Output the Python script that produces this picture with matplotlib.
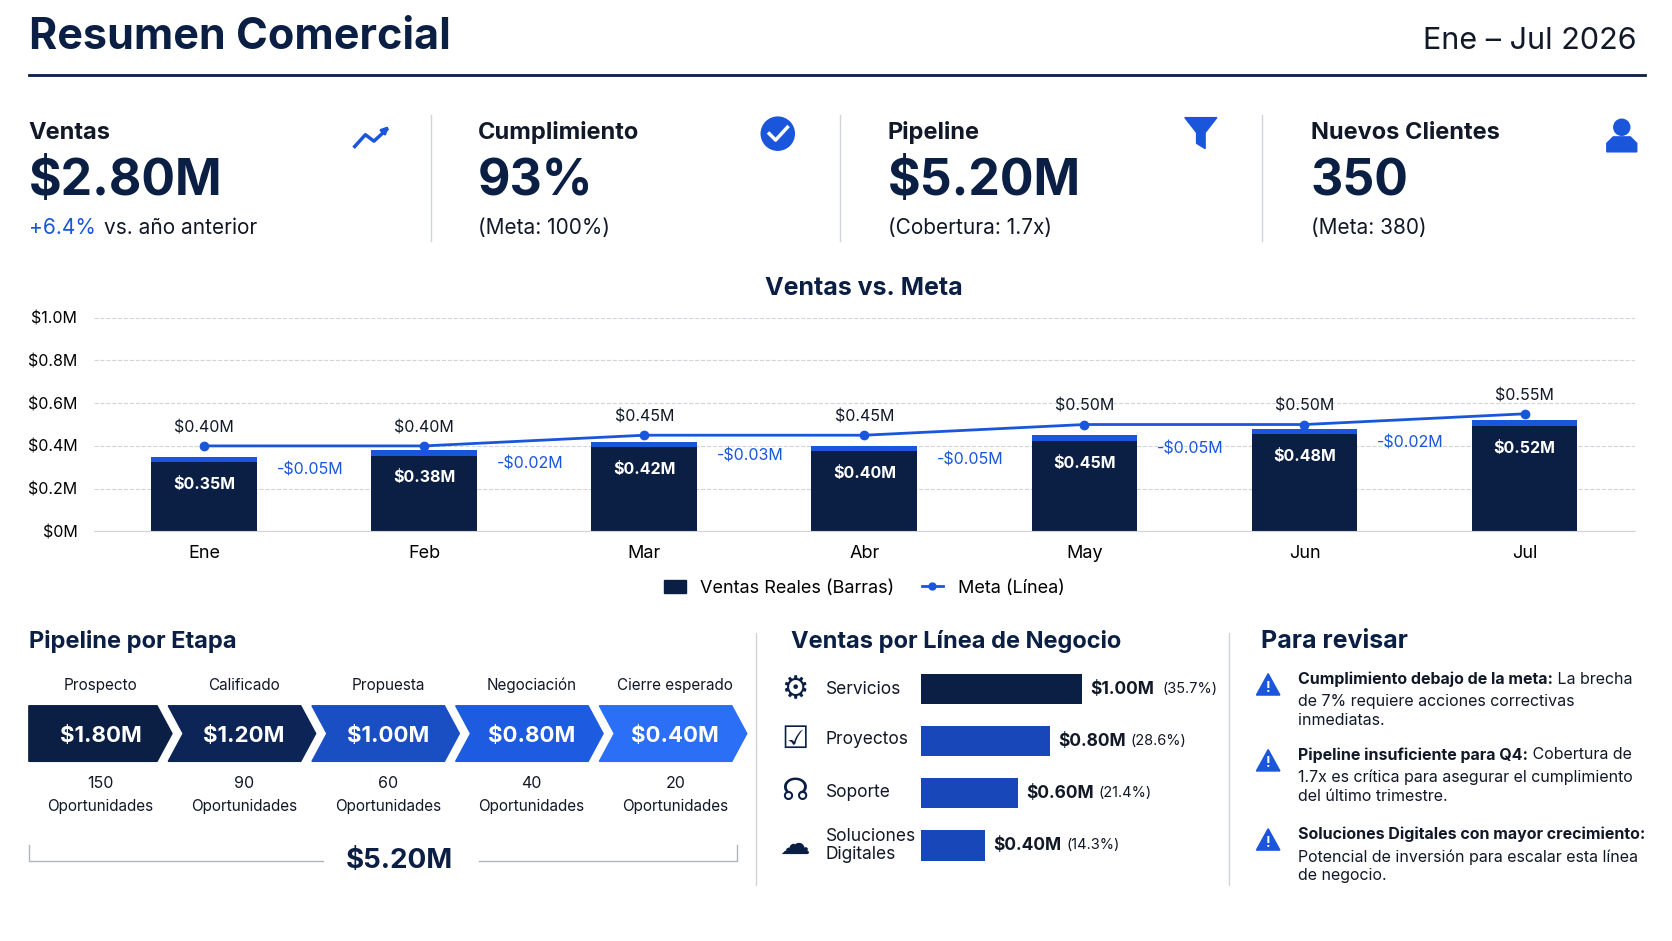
import numpy as np
import matplotlib.pyplot as plt
from matplotlib.patches import Polygon, Ellipse

plt.rcParams['font.family'] = ['Inter', 'DejaVu Sans']

NAVY = '#0b1f45'
BLUE = '#1a56db'
TXT = '#111827'

# ---- data
meses = ['Ene', 'Feb', 'Mar', 'Abr', 'May', 'Jun', 'Jul']
ventas = [0.35, 0.38, 0.42, 0.40, 0.45, 0.48, 0.52]
meta = [0.40, 0.40, 0.45, 0.45, 0.50, 0.50, 0.55]
brecha = ['-$0.05M', '-$0.02M', '-$0.03M', '-$0.05M', '-$0.05M', '-$0.02M']

etapas = ['Prospecto', 'Calificado', 'Propuesta', 'Negociación', 'Cierre esperado']
etapa_valor = ['$1.80M', '$1.20M', '$1.00M', '$0.80M', '$0.40M']
etapa_ops = [150, 90, 60, 40, 20]
etapa_col = ['#0b1f45', '#0d2457', '#1a4fc4', '#1d5be0', '#2a6ff5']

lineas = ['Servicios', 'Proyectos', 'Soporte', 'Soluciones\nDigitales']
linea_val = [1.00, 0.80, 0.60, 0.40]
linea_pct = ['35.7%', '28.6%', '21.4%', '14.3%']
linea_icon = ['⚙', '☑', '☊', '☁']
linea_col = [NAVY, '#1747b8', '#1747b8', '#1747b8']

kpis = [('Ventas', '$2.80M', 'vs. año anterior'),
        ('Cumplimiento', '93%', '(Meta: 100%)'),
        ('Pipeline', '$5.20M', '(Cobertura: 1.7x)'),
        ('Nuevos Clientes', '350', '(Meta: 380)')]

notas = [('Cumplimiento debajo de la meta:', ' La brecha\nde 7% requiere acciones correctivas\ninmediatas.'),
         ('Pipeline insuficiente para Q4:', ' Cobertura de\n1.7x es crítica para asegurar el cumplimiento\ndel último trimestre.'),
         ('Soluciones Digitales con mayor crecimiento:', '\nPotencial de inversión para escalar esta línea\nde negocio.')]

W, H = 1565.0, 880.0
def fx(x): return x / W
def fy(y): return 1 - y / H

fig = plt.figure(figsize=(16.72, 9.41), dpi=100)
fig.patch.set_facecolor('white')

# overlay for decorations, in layout pixels
ov = fig.add_axes([0, 0, 1, 1])
ov.set_xlim(0, W); ov.set_ylim(H, 0); ov.axis('off')

ov.text(27, 35, 'Resumen Comercial', fontsize=31, fontweight='bold', color=NAVY, va='center')
ov.text(1532, 38, 'Ene – Jul 2026', fontsize=22, color=TXT, va='center', ha='right')
ov.plot([27, 1540], [70, 70], color=NAVY, lw=2)

# KPI cards
kx = [27, 447, 831, 1227]
for i, (lab, val, sub) in enumerate(kpis):
    x = kx[i]
    ov.text(x, 124, lab, fontsize=17, fontweight='bold', color=TXT, va='center')
    ov.text(x, 170, val, fontsize=36, fontweight='bold', color=NAVY, va='center')
    if i == 0:
        ov.text(x, 213, '+6.4%', fontsize=15, color=BLUE, va='center')
        ov.text(x + 70, 213, sub, fontsize=15, color=TXT, va='center')
    else:
        ov.text(x, 213, sub, fontsize=15, color=TXT, va='center')
for dx in [403, 786, 1181]:
    ov.plot([dx, dx], [108, 225], color='#d1d5db', lw=1)
# icons
ov.plot([332, 342, 350, 362], [137, 126, 132, 121], color=BLUE, lw=2.5)
ov.annotate('', xy=(366, 116), xytext=(356, 126),
            arrowprops=dict(arrowstyle='-|>', color=BLUE, lw=2))
ov.add_patch(Ellipse((728, 125), 31, 31, color=BLUE))
ov.plot([720, 726, 737], [125, 131, 119], color='white', lw=2.5)
ov.add_patch(Polygon([[1109, 110], [1139, 110], [1128, 124], [1128, 139], [1120, 134], [1120, 124]], color=BLUE))
ov.add_patch(Ellipse((1518, 119), 15, 15, color=BLUE))
ov.add_patch(Polygon([[1504, 142], [1504, 134], [1510, 128], [1526, 128], [1532, 134], [1532, 142]], color=BLUE))

# main chart
ax = fig.add_axes([fx(88), fy(497), fx(1530) - fx(88), fy(297) - fy(497)])
x = np.arange(len(meses))
strip = 0.025
ax.bar(x, np.array(ventas) - strip, width=0.48, color=NAVY, zorder=2)
ax.bar(x, strip, bottom=np.array(ventas) - strip, width=0.48, color=BLUE, zorder=2)
ax.plot(x, meta, color=BLUE, lw=2, marker='o', ms=6, zorder=3)
for i in x:
    ax.text(i, ventas[i] - 0.13, f'${ventas[i]:.2f}M', color='white', ha='center',
            va='center', fontsize=11.5, fontweight='bold', zorder=4)
    ax.text(i, meta[i] + 0.085, f'${meta[i]:.2f}M', color=TXT, ha='center',
            va='center', fontsize=11.5, zorder=4)
for i, b in enumerate(brecha):
    ax.text(i + 0.48, ventas[i] - 0.065, b, color=BLUE, ha='center', va='center', fontsize=11.5)
ax.set_xlim(-0.5, 6.5)
ax.set_ylim(0, 1.0)
ax.set_yticks([0, 0.2, 0.4, 0.6, 0.8, 1.0])
ax.set_yticklabels(['$0M', '$0.2M', '$0.4M', '$0.6M', '$0.8M', '$1.0M'])
ax.set_xticks(x)
ax.set_xticklabels(meses)
ax.tick_params(axis='y', length=0, labelsize=11.5, pad=12)
ax.tick_params(axis='x', length=0, labelsize=13, pad=10)
ax.grid(axis='y', ls='--', color='#d1d5db', lw=0.8, zorder=0)
for s in ['top', 'right', 'left']:
    ax.spines[s].set_visible(False)
ax.spines['bottom'].set_color('#d1d5db')
ax.set_title('Ventas vs. Meta', fontsize=18, fontweight='bold', color=NAVY, pad=16)
ax.legend([plt.Rectangle((0, 0), 1, 1, color=NAVY),
           plt.Line2D([], [], color=BLUE, marker='o', ms=5, lw=2)],
          ['Ventas Reales (Barras)', 'Meta (Línea)'], loc='upper center',
          bbox_to_anchor=(0.5, -0.15), ncol=2, frameon=False, fontsize=13,
          handlelength=1.2, columnspacing=1.5)

# pipeline por etapa
ov.text(27, 600, 'Pipeline por Etapa', fontsize=17, fontweight='bold', color=NAVY, va='center')
cw, tip, step = 134, 14, 134.5
for i in range(len(etapas)):
    x0 = 27 + i * step
    if i == 0:
        pts = [[x0, 660], [x0 + cw - tip, 660], [x0 + cw, 686], [x0 + cw - tip, 712], [x0, 712]]
    else:
        pts = [[x0 - 4, 660], [x0 + cw - tip, 660], [x0 + cw, 686], [x0 + cw - tip, 712],
               [x0 - 4, 712], [x0 + tip - 4, 686]]
    ov.add_patch(Polygon(pts, color=etapa_col[i]))
    cx = x0 + cw / 2
    ov.text(cx, 641, etapas[i], fontsize=11, color=TXT, ha='center', va='center')
    ov.text(cx, 688, etapa_valor[i], fontsize=16, fontweight='bold', color='white', ha='center', va='center')
    ov.text(cx, 733, str(etapa_ops[i]), fontsize=11.5, color=TXT, ha='center', va='center')
    ov.text(cx, 754, 'Oportunidades', fontsize=11, color=TXT, ha='center', va='center')
ov.plot([27, 27, 302], [790, 805, 805], color='#b0b5bd', lw=1)
ov.plot([448, 690, 690], [805, 805, 790], color='#b0b5bd', lw=1)
ov.text(374, 805, '$5.20M', fontsize=20, fontweight='bold', color=NAVY, ha='center', va='center')

ov.plot([708, 708], [592, 828], color='#d1d5db', lw=1)
ov.plot([1150, 1150], [592, 828], color='#d1d5db', lw=1)

# ventas por linea
ov.text(740, 600, 'Ventas por Línea de Negocio', fontsize=17, fontweight='bold', color=NAVY, va='center')
bx = fig.add_axes([fx(862), fy(815), fx(1013) - fx(862), fy(620) - fy(815)])
yy = np.arange(len(lineas))
bx.barh(yy, linea_val, height=0.58, color=linea_col)
bx.set_ylim(len(lineas) - 0.5, -0.5)
bx.set_xlim(0, 1.0)
bx.axis('off')
for i in yy:
    bx.text(linea_val[i] + 0.05, i, f'${linea_val[i]:.2f}M', fontsize=12.5, fontweight='bold',
            color=TXT, va='center')
    bx.text(linea_val[i] + 0.5, i, f'({linea_pct[i]})', fontsize=10.5, color=TXT, va='center')
ly = [645, 692, 741, 791]
for i, ic in enumerate(linea_icon):
    ov.text(744, ly[i], ic, fontsize=22, color=NAVY, ha='center', va='center')
    ov.text(773, ly[i], lineas[i], fontsize=12.5, color=TXT, va='center', linespacing=1.1)

# para revisar
ov.text(1180, 600, 'Para revisar', fontsize=18, fontweight='bold', color=NAVY, va='center')
ny = [628, 699, 773]
fig.canvas.draw()
inv = ov.transData.inverted()
for i, (b, r) in enumerate(notas):
    y0 = ny[i]
    ov.add_patch(Polygon([[1176, y0 + 22], [1198, y0 + 22], [1187, y0 + 2]], color=BLUE))
    ov.text(1187, y0 + 15, '!', fontsize=10, fontweight='bold', color='white', ha='center', va='center')
    tb = ov.text(1215, y0, b, fontsize=11.5, fontweight='bold', color=TXT, va='top')
    lines = r.split('\n')
    bb = tb.get_window_extent(renderer=fig.canvas.get_renderer())
    xe = inv.transform((bb.x1, bb.y0))[0]
    ov.text(xe, y0, lines[0], fontsize=11.5, color=TXT, va='top')
    ov.text(1215, y0 + 21, '\n'.join(lines[1:]), fontsize=11.5, color=TXT, va='top', linespacing=1.3)

fig.savefig('out.png', dpi=100)
